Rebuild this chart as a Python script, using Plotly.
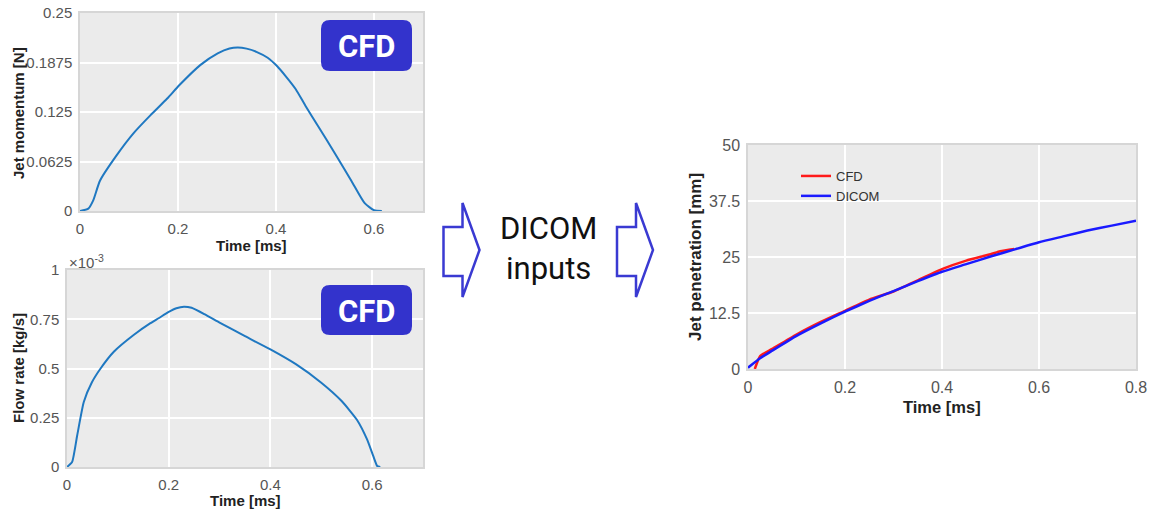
import plotly.graph_objects as go

# ---------------- data ----------------
# Jet momentum (CFD)
t_momentum = [0.0, 0.017, 0.027, 0.041, 0.075, 0.109, 0.144, 0.178, 0.203, 0.246,
              0.281, 0.305, 0.322, 0.34, 0.36, 0.383, 0.402, 0.42, 0.44, 0.46,
              0.486, 0.52, 0.554, 0.581, 0.6, 0.616]
momentum = [0.0, 0.003, 0.0135, 0.0385, 0.0705, 0.098, 0.121, 0.142, 0.159, 0.1845,
            0.199, 0.2052, 0.2065, 0.2050, 0.2010, 0.1935, 0.183, 0.170, 0.154, 0.133,
            0.107, 0.073, 0.038, 0.010, 0.001, 0.0]

# Flow rate (CFD), in units of 1e-3 kg/s
t_flow = [0.0, 0.01, 0.02, 0.033, 0.049, 0.066, 0.092, 0.131, 0.164, 0.18, 0.2, 0.215,
          0.23, 0.245, 0.27, 0.3, 0.35, 0.4, 0.45, 0.5, 0.54, 0.57, 0.59, 0.603, 0.61, 0.616]
flow_rate = [0.0, 0.025, 0.16, 0.33, 0.43, 0.50, 0.585, 0.67, 0.73, 0.755, 0.787, 0.806,
             0.814, 0.808, 0.776, 0.733, 0.664, 0.597, 0.522, 0.428, 0.335, 0.24, 0.14,
             0.05, 0.005, 0.0]

# Jet penetration
t_cfd = [0.014, 0.02, 0.025, 0.05, 0.1, 0.15, 0.2, 0.25, 0.3, 0.35, 0.4, 0.45, 0.5, 0.52, 0.549]
pen_cfd = [0.0, 1.8, 2.9, 4.5, 7.7, 10.5, 13.0, 15.5, 17.3, 19.8, 22.3, 24.2, 25.6, 26.3, 26.8]
t_dicom = [0.0, 0.025, 0.05, 0.1, 0.15, 0.2, 0.25, 0.3, 0.35, 0.4, 0.45, 0.5, 0.55,
           0.6, 0.65, 0.7, 0.75, 0.8]
pen_dicom = [0.3, 2.4, 4.1, 7.4, 10.2, 12.8, 15.2, 17.4, 19.6, 21.7, 23.4, 25.1, 26.7,
             28.3, 29.6, 30.9, 32.0, 33.1]

mom_ticks = [0, 0.0625, 0.125, 0.1875, 0.25]
mom_ticktext = ["0", "0.0625", "0.125", "0.1875", "0.25"]
flow_ticks = [0, 0.25, 0.5, 0.75, 1]
flow_ticktext = ["0", "0.25", "0.5", "0.75", "1"]
time_ticks_left = [0, 0.2, 0.4, 0.6]
time_ticks_right = [0, 0.2, 0.4, 0.6, 0.8]
pen_ticks = [0, 12.5, 25, 37.5, 50]
pen_ticktext = ["0", "12.5", "25", "37.5", "50"]

# ---------------- layout helpers ----------------
W, H = 1158, 513
def px(x): return x / W
def py(y): return 1 - y / H

FONT = "Liberation Sans, Arial, sans-serif"
NARROW = "Roboto, Liberation Sans, sans-serif"
TICK_COLOR = "#555555"
TITLE_COLOR = "#222222"
BLUE_BOX = "#3333cc"

def axis_style(size=15):
    return dict(showgrid=True, gridcolor="white", gridwidth=1.6, zeroline=False,
                showline=True, linecolor="#d6d6d6", linewidth=1.5, mirror=True,
                ticks="", tickfont=dict(family=FONT, size=size, color=TICK_COLOR),
                ticklabelstandoff=3, automargin=False)

fig = go.Figure()

fig.add_trace(go.Scatter(x=t_momentum, y=momentum, mode="lines",
                         line=dict(color="#1f78c1", width=2, shape="spline", smoothing=0.6),
                         xaxis="x", yaxis="y", showlegend=False))
fig.add_trace(go.Scatter(x=t_flow, y=flow_rate, mode="lines",
                         line=dict(color="#1f78c1", width=2, shape="spline", smoothing=0.5),
                         xaxis="x2", yaxis="y2", showlegend=False))
fig.add_trace(go.Scatter(x=t_cfd, y=pen_cfd, mode="lines", name="CFD",
                         line=dict(color="#ff1a1a", width=2.5, shape="spline", smoothing=0.5),
                         xaxis="x3", yaxis="y3"))
fig.add_trace(go.Scatter(x=t_dicom, y=pen_dicom, mode="lines", name="DICOM",
                         line=dict(color="#1a1aff", width=2.5, shape="spline", smoothing=0.5),
                         xaxis="x3", yaxis="y3"))

layout = dict(
    width=W, height=H, margin=dict(l=0, r=0, t=0, b=0, autoexpand=False),
    paper_bgcolor="white", plot_bgcolor="#ebebeb",
    xaxis=dict(axis_style(), domain=[px(80), px(423)], range=[0, 0.7],
               tickvals=time_ticks_left, ticktext=[str(v) for v in time_ticks_left],
               anchor="y"),
    yaxis=dict(axis_style(), domain=[py(211), py(13)], range=[0, 0.25],
               tickvals=mom_ticks, ticktext=mom_ticktext, anchor="x"),
    xaxis2=dict(axis_style(), domain=[px(67), px(423)], range=[0, 0.7],
                tickvals=time_ticks_left, ticktext=[str(v) for v in time_ticks_left],
                anchor="y2"),
    yaxis2=dict(axis_style(), domain=[py(467), py(270)], range=[0, 1],
                tickvals=flow_ticks, ticktext=flow_ticktext, anchor="x2"),
    xaxis3=dict(axis_style(16), domain=[px(748), px(1136)], range=[0, 0.8],
                tickvals=time_ticks_right, ticktext=[str(v) for v in time_ticks_right],
                anchor="y3"),
    yaxis3=dict(axis_style(16), domain=[py(369), py(145)], range=[0, 50],
                tickvals=pen_ticks, ticktext=pen_ticktext, anchor="x3"),
    legend=dict(x=px(796), y=py(161), xanchor="left", yanchor="top",
                bgcolor="rgba(0,0,0,0)", font=dict(family=FONT, size=13, color="#333333"),
                tracegroupgap=0),
    showlegend=True,
)
fig.update_layout(**layout)

# axis titles
def title(text, x, y, angle=0, size=15):
    fig.add_annotation(text=text, x=px(x), y=py(y), xref="paper", yref="paper",
                       showarrow=False, textangle=angle, xanchor="center", yanchor="middle",
                       font=dict(family=FONT, size=size, color=TITLE_COLOR, weight="bold"))

title("Time [ms]", 251.5, 245)
title("Jet momentum [N]", 18, 113, -90)
title("Time [ms]", 245, 500)
title("Flow rate [kg/s]", 18, 368, -90)
title("Time [ms]", 942, 407, size=16.5)
title("Jet penetration [mm]", 695, 257, -90, size=17)

fig.add_annotation(text="×10<sup>-3</sup>", x=px(67), y=py(261), xref="paper", yref="paper",
                   showarrow=False, xanchor="left", yanchor="middle",
                   font=dict(family=FONT, size=15, color=TICK_COLOR))

# CFD badges
def rounded_rect(x0, y0, x1, y1, r):
    rx, ry = r / W, r / H
    X0, X1 = px(x0), px(x1)
    Y0, Y1 = py(y0), py(y1)  # Y0 top (larger), Y1 bottom
    return (f"M{X0+rx},{Y0} L{X1-rx},{Y0} Q{X1},{Y0} {X1},{Y0-ry} "
            f"L{X1},{Y1+ry} Q{X1},{Y1} {X1-rx},{Y1} L{X0+rx},{Y1} "
            f"Q{X0},{Y1} {X0},{Y1+ry} L{X0},{Y0-ry} Q{X0},{Y0} {X0+rx},{Y0} Z")

for (y0, y1) in [(20, 71), (285, 335)]:
    fig.add_shape(type="path", path=rounded_rect(321, y0, 412, y1, 9),
                  xref="paper", yref="paper", fillcolor=BLUE_BOX, line=dict(width=0))
    fig.add_annotation(text="CFD", x=px(366.5), y=py((y0 + y1) / 2 + 1), xref="paper",
                       yref="paper", showarrow=False, xanchor="center", yanchor="middle",
                       font=dict(family=NARROW, size=31, color="white", weight="bold"))

# outline arrows
def arrow_path(x0):
    pts = [(x0, 227), (x0 + 19, 227), (x0 + 19, 203), (x0 + 36, 250),
           (x0 + 19, 297), (x0 + 19, 276), (x0, 276)]
    return "M" + " L".join(f"{px(x)},{py(y)}" for x, y in pts) + " Z"

for x0 in [443.5, 617]:
    fig.add_shape(type="path", path=arrow_path(x0), xref="paper", yref="paper",
                  fillcolor="white", line=dict(color="#3a3ad2", width=2.5))

fig.add_annotation(text="DICOM", x=px(548.5), y=py(228), xref="paper", yref="paper",
                   showarrow=False, xanchor="center", yanchor="middle",
                   font=dict(family=NARROW, size=31, color="#111111"))
fig.add_annotation(text="inputs", x=px(548.5), y=py(268), xref="paper", yref="paper",
                   showarrow=False, xanchor="center", yanchor="middle",
                   font=dict(family=NARROW, size=31, color="#111111"))

fig.write_html("out.html", config={"displayModeBar": False},
               post_script="document.body.style.margin='0';document.body.style.overflow='hidden';")
